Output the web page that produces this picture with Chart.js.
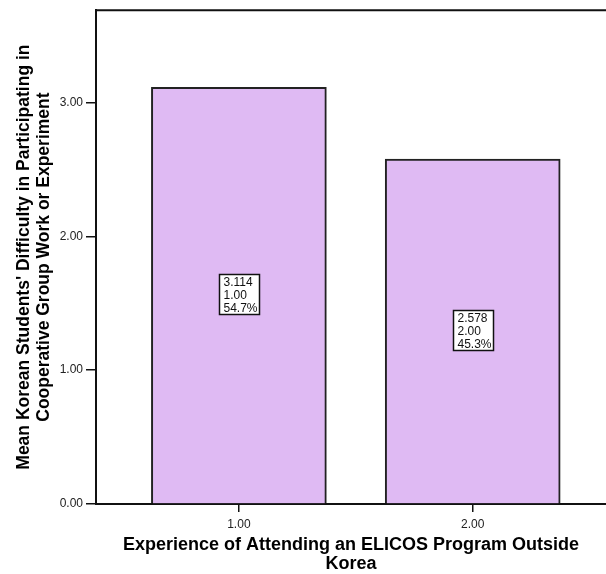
<!DOCTYPE html>
<html>
<head>
	<title>Mean Difficulty by ELICOS Experience</title>
	<script src="https://cdn.jsdelivr.net/npm/chart.js@4.4.1/dist/chart.umd.min.js"></script>
	<style>
		html, body { margin: 0; padding: 0; background: #fff; }
		#chart-box { width: 606px; height: 574px; }
	</style>
</head>
<body>
	<script type="text/javascript">
		// values
		var groups = [1, 2];
		var groupLabels = ['1.00', '2.00'];
		var means = [3.114, 2.578];
		var percents = ['54.7%', '45.3%'];
		var yTicks = [0, 1, 2, 3];
		var xTicks = [1, 2];
	</script>
	<div id="chart-box">
		<canvas id="chart1"></canvas>
	</div>
	<script type="text/javascript">
		var barFill = '#dfbaf3';
		var lineCol = '#111';
		var fam = '"Liberation Sans", Arial, sans-serif';

		// top frame line of the plot
		var topFrame = {
			id: 'topFrame',
			afterDraw: function(chart){
				var a = chart.chartArea, c = chart.ctx;
				c.save();
				c.strokeStyle = lineCol;
				c.lineWidth = 2;
				c.beginPath();
				c.moveTo(a.left - 1, a.top);
				c.lineTo(a.right, a.top);
				c.stroke();
				c.restore();
			}
		};

		// boxed labels in the middle of each bar
		var barBoxes = {
			id: 'barBoxes',
			afterDatasetsDraw: function(chart){
				var c = chart.ctx;
				var meta = chart.getDatasetMeta(0);
				c.save();
				c.font = '12px ' + fam;
				c.textBaseline = 'middle';
				c.textAlign = 'left';
				meta.data.forEach(function(bar, i){
					var cx = bar.x, cy = (bar.y + bar.base) / 2 - 1.5;
					var w = 40, h = 40;
					var x0 = Math.round(cx - 20) + 0.5, y0 = Math.round(cy - h / 2) + 0.5;
					c.fillStyle = '#fff';
					c.fillRect(x0, y0, w, h);
					c.strokeStyle = lineCol;
					c.lineWidth = 1.5;
					c.strokeRect(x0, y0, w, h);
					c.fillStyle = '#111';
					var lines = [means[i].toFixed(3), groupLabels[i], percents[i]];
					lines.forEach(function(t, k){
						c.fillText(t, x0 + 4, y0 + 8.5 + k * 12.7);
					});
				});
				c.restore();
			}
		};

		var ctx1 = document.getElementById('chart1');
		var chart1 = new Chart(ctx1, {
			type: 'bar',
			data: {
				datasets: [{
					data: groups.map(function(g, i){ return {x: g, y: means[i]}; }),
					backgroundColor: barFill,
					borderColor: '#222',
					borderWidth: 2,
					borderSkipped: 'bottom',
					barThickness: 175
				}]
			},
			options: {
				responsive: true,
				maintainAspectRatio: false,
				animation: false,
				events: [],
				layout: { padding: { top: 8, right: 0, left: 0, bottom: 0 } },
				plugins: {
					legend: { display: false },
					tooltip: { enabled: false }
				},
				scales: {
					x: {
						type: 'linear',
						offset: false,
						min: 0.389,
						max: 2.57,
						afterBuildTicks: function(s){ s.ticks = xTicks.map(function(v){ return {value: v}; }); },
						afterFit: function(s){ s.height = 70; },
						ticks: {
							callback: function(v){ return Number(v).toFixed(2); },
							font: { family: fam, size: 12 },
							color: '#222',
							padding: 5,
							maxRotation: 0
						},
						grid: { offset: false, drawOnChartArea: false, tickLength: 8, color: lineCol, lineWidth: 1.5 },
						border: { display: true, color: lineCol, width: 2 },
						title: {
							display: true,
							text: ['Experience of Attending an ELICOS Program Outside', 'Korea'],
							font: { family: fam, size: 18, weight: 'bold', lineHeight: '19px' },
							color: '#000',
							padding: { top: 0, bottom: 0 }
						}
					},
					y: {
						min: 0,
						max: 3.69,
						afterBuildTicks: function(s){ s.ticks = yTicks.map(function(v){ return {value: v}; }); },
						afterFit: function(s){ s.width = 96; },
						ticks: {
							callback: function(v){ return Number(v).toFixed(2); },
							font: { family: fam, size: 12 },
							color: '#222',
							padding: 3
						},
						grid: { drawOnChartArea: false, tickLength: 10, color: lineCol, lineWidth: 1.5 },
						border: { display: true, color: lineCol, width: 2 },
						title: {
							display: true,
							text: ["Mean Korean Students' Difficulty in Participating in", 'Cooperative Group Work or Experiment'],
							font: { family: fam, size: 17.5, weight: 'bold', lineHeight: '20px' },
							color: '#000',
							padding: { top: 14, bottom: 0 }
						}
					}
				}
			},
			plugins: [topFrame, barBoxes]
		});
	</script>
</body>
</html>
